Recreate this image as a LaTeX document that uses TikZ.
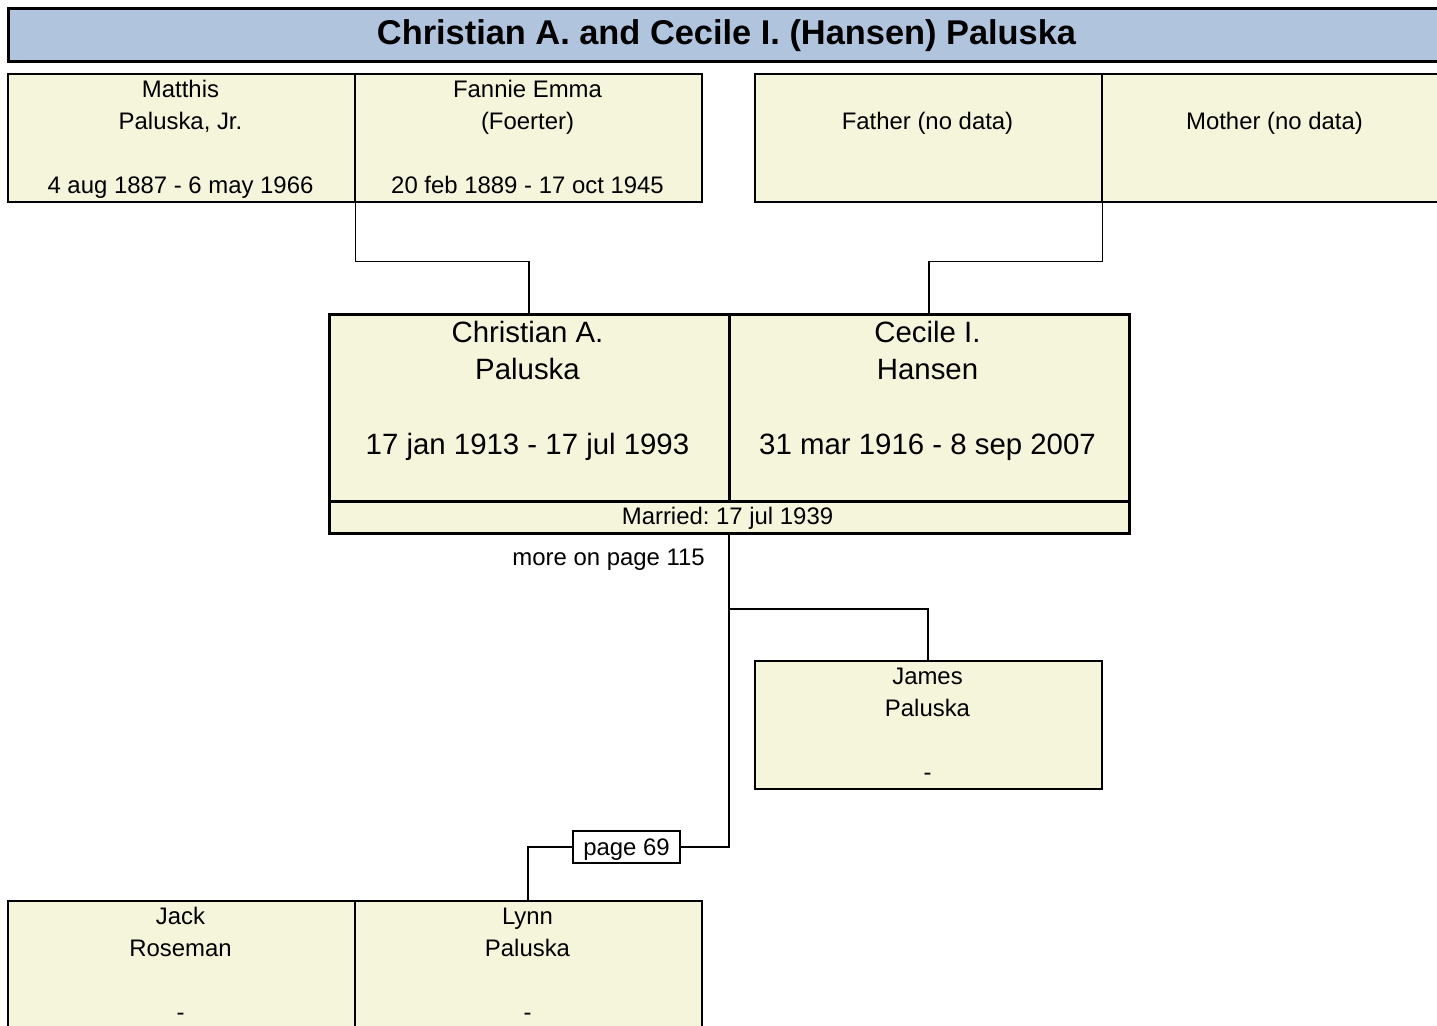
\documentclass[tikz,border=0pt]{standalone}
\usepackage{fontspec}
\setmainfont{Liberation Sans}
\definecolor{boxfill}{HTML}{F5F5DC}
\definecolor{titlefill}{HTML}{B0C4DE}
\frenchspacing
\begin{document}
\begin{tikzpicture}[x=1bp,y=-1bp,
  pbox/.style={draw, line width=1.5bp, fill=boxfill, minimum width=347bp, minimum height=128bp, inner sep=0pt, anchor=north west},
  cbox/.style={draw, line width=3bp, fill=boxfill, inner sep=0pt, anchor=north west},
  txt/.style={font=\fontsize{24}{28}\selectfont, inner sep=0pt, anchor=base},
  bigtxt/.style={font=\fontsize{29.5}{34}\selectfont, inner sep=0pt, anchor=base},
  conn/.style={draw, line width=1.7bp}
]
\useasboundingbox (0,0) rectangle (1437,1025);
\clip (0,0) rectangle (1437,1025);
\fill[white] (0,0) rectangle (1437,1025);

% title
\node[draw, line width=2.5bp, fill=titlefill, minimum width=1460bp, minimum height=53bp, inner sep=0pt, anchor=north west] (title) at (7,7) {};
\node[font=\bfseries\fontsize{34.5}{40}\selectfont, inner sep=0pt, anchor=base] (titletxt) at (726.5,44) {Christian A. and Cecile I. (Hansen) Paluska};

% parents row
\node[pbox] (matthis) at (7,73) {};
\node[pbox] (fannie) at (354,73) {};
\node[pbox] (father) at (754,73) {};
\node[pbox] (mother) at (1101,73) {};

\node[txt] (t1a) at (180.5,97.5) {Matthis};
\node[txt] (t1b) at (180.5,129.5) {Paluska, Jr.};
\node[txt] (t1c) at (180.5,193.5) {4 aug 1887 - 6 may 1966};
\node[txt] (t2a) at (527.5,97.5) {Fannie Emma};
\node[txt] (t2b) at (527.5,129.5) {(Foerter)};
\node[txt] (t2c) at (527.5,193.5) {20 feb 1889 - 17 oct 1945};
\node[txt] (t3a) at (927.5,129.5) {Father (no data)};
\node[txt] (t4a) at (1274.5,129.5) {Mother (no data)};

% couple
\node[cbox, minimum width=400bp, minimum height=187bp] (chris) at (327.5,313) {};
\node[cbox, minimum width=400.5bp, minimum height=187bp] (cecile) at (727.5,313) {};
\node[cbox, minimum width=800.5bp, minimum height=32bp] (married) at (327.5,500) {};

\node[bigtxt] (c1a) at (527.5,342) {Christian A.};
\node[bigtxt] (c1b) at (527.5,379) {Paluska};
\node[bigtxt] (c1c) at (527.5,454) {17 jan 1913 - 17 jul 1993};
\node[bigtxt] (c2a) at (927.5,342) {Cecile I.};
\node[bigtxt] (c2b) at (927.5,379) {Hansen};
\node[bigtxt] (c2c) at (927.5,454) {31 mar 1916 - 8 sep 2007};
\node[txt] (mtxt) at (727.5,524.5) {Married: 17 jul 1939};

\node[txt, anchor=base east] (more) at (705,565) {more on page 115};

% children
\node[pbox] (james) at (754,660) {};
\node[txt] (j1) at (927.5,684.5) {James};
\node[txt] (j2) at (927.5,716.5) {Paluska};
\node[txt] (j3) at (927.5,780.5) {-};

\node[draw, line width=1.5bp, fill=white, minimum width=107bp, minimum height=32bp, inner sep=0pt, text height=17pt, text depth=0pt, font=\fontsize{24}{28}\selectfont] (page) at (626.5,847) {page 69};

\node[pbox] (jack) at (7,900) {};
\node[pbox] (lynn) at (354,900) {};
\node[txt] (k1) at (180.5,924.5) {Jack};
\node[txt] (k2) at (180.5,956.5) {Roseman};
\node[txt] (k3) at (180.5,1020.5) {-};
\node[txt] (l1) at (527.5,924.5) {Lynn};
\node[txt] (l2) at (527.5,956.5) {Paluska};
\node[txt] (l3) at (527.5,1020.5) {-};

% connectors
\draw[conn] (matthis.south east) -- ++(0,59) -| (chris.north);
\draw[conn] (father.south east) -- ++(0,59) -| (cecile.north);
\draw[conn] (married.south) |- (page.east);
\draw[conn] (married.south) ++(0,74) -| (james.north);
\draw[conn] (page.west) -| (lynn.north);
\end{tikzpicture}
\end{document}
